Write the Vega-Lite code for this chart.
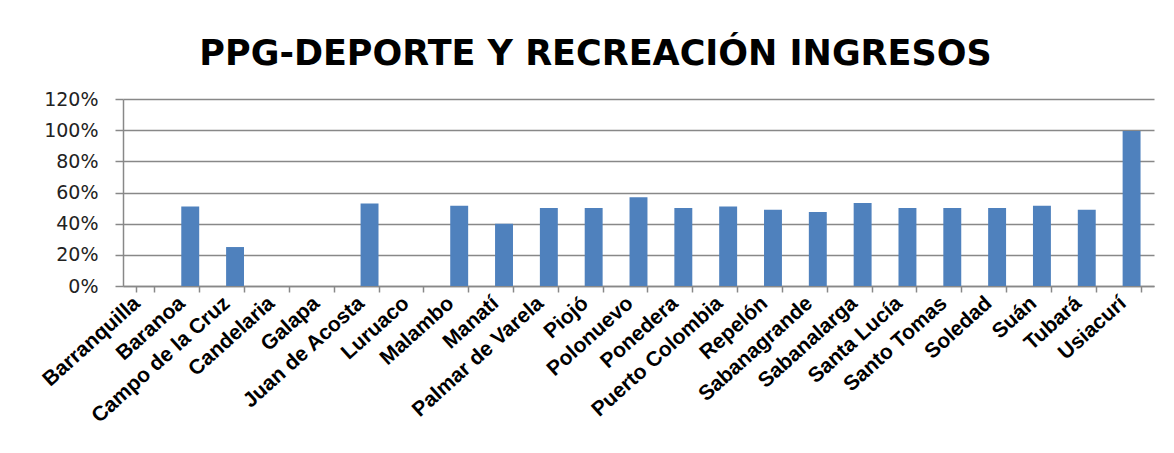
{
  "$schema": "https://vega.github.io/schema/vega-lite/v6.json",
  "width": 1031,
  "height": 187,
  "autosize": "none",
  "padding": {"left": 123, "top": 99, "right": 20, "bottom": 167},
  "background": "white",
  "title": {
    "text": "PPG-DEPORTE Y RECREACIÓN INGRESOS",
    "font": "DejaVu Sans",
    "fontWeight": "bold",
    "fontSize": 35,
    "color": "#000000",
    "anchor": "middle",
    "dx": -43,
    "offset": 18
  },
  "data": {
    "values": [
      {"municipio": "Barranquilla", "valor": 0},
      {"municipio": "Baranoa", "valor": 0.51},
      {"municipio": "Campo de la Cruz", "valor": 0.25},
      {"municipio": "Candelaria", "valor": 0},
      {"municipio": "Galapa", "valor": 0},
      {"municipio": "Juan de Acosta", "valor": 0.53},
      {"municipio": "Luruaco", "valor": 0},
      {"municipio": "Malambo", "valor": 0.515},
      {"municipio": "Manatí", "valor": 0.40},
      {"municipio": "Palmar de Varela", "valor": 0.50},
      {"municipio": "Piojó", "valor": 0.50},
      {"municipio": "Polonuevo", "valor": 0.57},
      {"municipio": "Ponedera", "valor": 0.50},
      {"municipio": "Puerto Colombia", "valor": 0.51},
      {"municipio": "Repelón", "valor": 0.49},
      {"municipio": "Sabanagrande", "valor": 0.475},
      {"municipio": "Sabanalarga", "valor": 0.533},
      {"municipio": "Santa Lucía", "valor": 0.50},
      {"municipio": "Santo Tomas", "valor": 0.50},
      {"municipio": "Soledad", "valor": 0.50},
      {"municipio": "Suán", "valor": 0.515},
      {"municipio": "Tubará", "valor": 0.49},
      {"municipio": "Usiacurí", "valor": 0.995}
    ]
  },
  "mark": {"type": "bar", "color": "#4F81BD"},
  "encoding": {
    "x": {
      "field": "municipio",
      "type": "nominal",
      "sort": null,
      "scale": {"paddingInner": 0.6, "paddingOuter": 0.3},
      "axis": {
        "title": null,
        "labelAngle": -42,
        "labelAlign": "right",
        "labelBaseline": "top",
        "labelFont": "Liberation Sans",
        "labelFontWeight": "bold",
        "labelFontSize": 21,
        "labelColor": "#000000",
        "labelPadding": 0,
        "labelOffset": -16,
        "tickBand": "extent",
        "ticks": true,
        "tickSize": 6,
        "tickColor": "#888888",
        "tickWidth": 1.5,
        "domainColor": "#888888",
        "domainWidth": 1.5,
        "grid": false,
        "labelOverlap": false
      }
    },
    "y": {
      "field": "valor",
      "type": "quantitative",
      "scale": {"domain": [0, 1.2], "nice": false},
      "axis": {
        "title": null,
        "format": ".0%",
        "values": [0, 0.2, 0.4, 0.6, 0.8, 1.0, 1.2],
        "labelFont": "DejaVu Sans",
        "labelFontSize": 19,
        "labelColor": "#222222",
        "labelPadding": 17,
        "tickSize": 8,
        "tickColor": "#888888",
        "tickWidth": 1.5,
        "domainColor": "#888888",
        "domainWidth": 1.5,
        "gridColor": "#888888",
        "gridWidth": 1.5
      }
    }
  },
  "config": {"view": {"stroke": null}}
}
